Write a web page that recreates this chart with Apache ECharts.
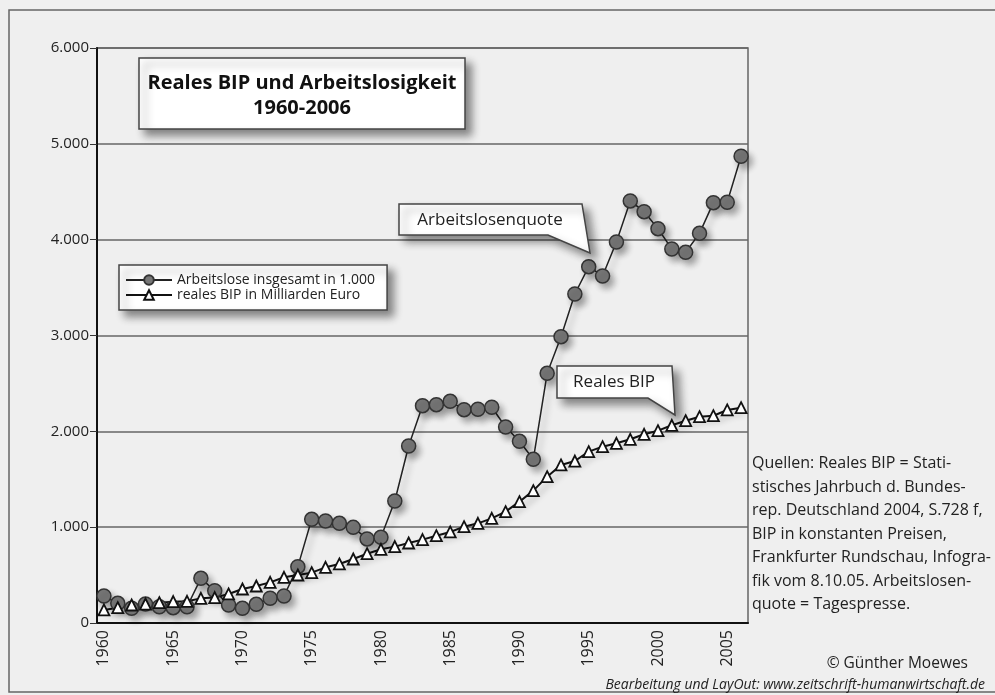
<!DOCTYPE html>
<html>
<head>
<meta charset="utf-8">
<script src="https://cdn.jsdelivr.net/npm/echarts@6/dist/echarts.min.js"></script>
<style>
  html, body { margin: 0; padding: 0; background: #efefef; }
  #chart { width: 995px; height: 695px; }
</style>
</head>
<body>
<div id="chart"></div>
<script>
const FONT = '"Open Sans", "Noto Sans", sans-serif';

const years = [
  '1960', '1961', '1962', '1963', '1964', '1965', '1966', '1967', '1968', '1969',
  '1970', '1971', '1972', '1973', '1974', '1975', '1976', '1977', '1978', '1979',
  '1980', '1981', '1982', '1983', '1984', '1985', '1986', '1987', '1988', '1989',
  '1990', '1991', '1992', '1993', '1994', '1995', '1996', '1997', '1998', '1999',
  '2000', '2001', '2002', '2003', '2004', '2005', '2006'
];

// Arbeitslose insgesamt in 1.000
const arbeitslose = [
  282, 205, 153, 198, 170, 160, 170, 466, 337, 188,
  153, 195, 258, 282, 588, 1082, 1064, 1040, 998, 877,
  894, 1273, 1847, 2268, 2278, 2313, 2226, 2230, 2251, 2045,
  1896, 1708, 2605, 2988, 3433, 3718, 3621, 3976, 4404, 4292,
  4115, 3903, 3868, 4066, 4386, 4390, 4870
];

// reales BIP in Milliarden Euro
const bip = [
  136, 160, 188, 198, 212, 223, 226, 257, 265, 303,
  355, 386, 424, 477, 501, 525, 581, 616, 668, 723,
  769, 797, 835, 870, 911, 950, 1005, 1040, 1092, 1162,
  1266, 1381, 1527, 1649, 1690, 1788, 1840, 1875, 1917, 1969,
  2007, 2063, 2111, 2153, 2163, 2223, 2247
];

const seriesNames = ['Arbeitslose insgesamt in 1.000', 'reales BIP in Milliarden Euro'];
const titleLines = ['Reales BIP und Arbeitslosigkeit', '1960-2006'];
const sourceLines = [
  'Quellen: Reales BIP = Stati-',
  'stisches Jahrbuch d. Bundes-',
  'rep. Deutschland 2004, S.728 f,',
  'BIP in konstanten Preisen,',
  'Frankfurter Rundschau, Infogra-',
  'fik vom 8.10.05. Arbeitslosen-',
  'quote = Tagespresse.'
];

const shadow = {
  shadowColor: 'rgba(0,0,0,0.45)',
  shadowBlur: 8,
  shadowOffsetX: 6,
  shadowOffsetY: 6
};

const lineShadow = {
  shadowColor: 'rgba(0,0,0,0.3)',
  shadowBlur: 6,
  shadowOffsetX: 4,
  shadowOffsetY: 5
};

const chart = echarts.init(document.getElementById('chart'));

chart.setOption({
  animation: false,
  backgroundColor: '#efefef',
  textStyle: { fontFamily: FONT },
  grid: {
    left: 97,
    right: 247,
    top: 48,
    bottom: 72,
    show: true,
    borderColor: '#666',
    borderWidth: 1.5
  },
  legend: {
    orient: 'vertical',
    left: 119,
    top: 265,
    padding: [8, 12, 8, 6],
    itemGap: 1,
    itemWidth: 46,
    itemHeight: 12,
    backgroundColor: '#fff',
    borderColor: '#444',
    borderWidth: 1.5,
    ...shadow,
    textStyle: { fontSize: 14, color: '#222', fontFamily: FONT },
    data: seriesNames
  },
  xAxis: {
    type: 'category',
    data: years,
    boundaryGap: true,
    axisLine: { lineStyle: { color: '#111', width: 2 } },
    axisTick: {
      alignWithLabel: true,
      interval: 0,
      length: 7,
      lineStyle: { color: '#333', width: 1 }
    },
    axisLabel: {
      interval: (i, v) => Number(v) % 5 === 0,
      rotate: 90,
      fontSize: 16,
      color: '#222',
      margin: 7
    }
  },
  yAxis: {
    type: 'value',
    min: 0,
    max: 6000,
    interval: 1000,
    axisLine: { show: true, lineStyle: { color: '#111', width: 2 } },
    axisTick: { show: true, length: 7, lineStyle: { color: '#333' } },
    axisLabel: {
      fontSize: 15,
      color: '#222',
      margin: 8,
      formatter: v => (v === 0 ? '0' : (v / 1000) + '.000')
    },
    splitLine: { lineStyle: { color: '#666', width: 1.5 } }
  },
  series: [
    {
      name: seriesNames[0],
      type: 'line',
      data: arbeitslose,
      symbol: 'circle',
      symbolSize: 14,
      showAllSymbol: true,
      lineStyle: { color: '#222', width: 1.5, ...lineShadow },
      itemStyle: { color: '#777', borderColor: '#333', borderWidth: 1.5, ...lineShadow }
    },
    {
      name: seriesNames[1],
      type: 'line',
      data: bip,
      symbol: 'triangle',
      symbolSize: 11,
      showAllSymbol: true,
      lineStyle: { color: '#111', width: 2, ...lineShadow },
      itemStyle: { color: '#fff', borderColor: '#111', borderWidth: 1.8 }
    }
  ],
  graphic: [
    {
      type: 'rect',
      z: -10,
      silent: true,
      shape: { x: 9, y: 10, width: 1000, height: 682 },
      style: { fill: 'none', stroke: '#666', lineWidth: 1.5 }
    },
    {
      type: 'rect',
      z: 10,
      shape: { x: 139, y: 58, width: 326, height: 71 },
      style: { fill: '#fff', stroke: '#444', lineWidth: 1.5, ...shadow }
    },
    {
      type: 'text',
      z: 11,
      x: 302,
      y: 96,
      style: {
        text: titleLines.join('\n'),
        font: 'bold 20px ' + FONT,
        fill: '#111',
        align: 'center',
        verticalAlign: 'middle',
        lineHeight: 25
      }
    },
    {
      type: 'polygon',
      z: 10,
      shape: { points: [[399, 204], [582, 204], [590, 253], [548, 235], [399, 235]] },
      style: { fill: '#fff', stroke: '#444', lineWidth: 1.5, ...shadow }
    },
    {
      type: 'text',
      z: 11,
      x: 490,
      y: 220,
      style: { text: 'Arbeitslosenquote', font: '17px ' + FONT, fill: '#222', align: 'center', verticalAlign: 'middle' }
    },
    {
      type: 'polygon',
      z: 10,
      shape: { points: [[557, 366], [672, 366], [675, 415], [648, 398], [557, 398]] },
      style: { fill: '#fff', stroke: '#444', lineWidth: 1.5, ...shadow }
    },
    {
      type: 'text',
      z: 11,
      x: 614,
      y: 382,
      style: { text: 'Reales BIP', font: '17px ' + FONT, fill: '#222', align: 'center', verticalAlign: 'middle' }
    },
    {
      type: 'text',
      x: 752,
      y: 452,
      style: {
        text: sourceLines.join('\n'),
        font: '16px ' + FONT,
        fill: '#222',
        lineHeight: 23.5,
        align: 'left',
        verticalAlign: 'top'
      }
    },
    {
      type: 'text',
      x: 968,
      y: 664,
      style: { text: '\u00a9 G\u00fcnther Moewes', font: '15.5px ' + FONT, fill: '#222', align: 'right', verticalAlign: 'middle' }
    },
    {
      type: 'text',
      x: 985,
      y: 685,
      style: {
        text: 'Bearbeitung und LayOut: www.zeitschrift-humanwirtschaft.de',
        font: 'italic 14px ' + FONT,
        fill: '#222',
        align: 'right',
        verticalAlign: 'middle'
      }
    }
  ]
});
</script>
</body>
</html>
